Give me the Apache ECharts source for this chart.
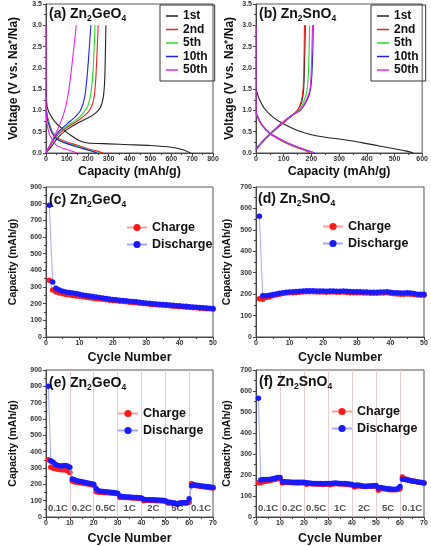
<!DOCTYPE html>
<html><head><meta charset="utf-8">
<script src="https://cdn.jsdelivr.net/npm/echarts@6/dist/echarts.min.js"></script>
<style>html,body{margin:0;padding:0;background:#fff}#c{width:431px;height:546px}</style>
</head><body><div id="c"></div>
<script>
// ---------- DATA ----------
// (a) Zn2GeO4 voltage profiles: [capacity mAh/g, voltage V]
const geDis1 = [[0,1.5],[5,1.1],[15,0.95],[40,0.75],[80,0.56],[120,0.41],[160,0.29],[200,0.235],[300,0.215],[400,0.195],[500,0.175],[600,0.135],[660,0.07],[692,0]];
const geChg1 = [[0,0],[30,0.18],[60,0.38],[100,0.55],[150,0.7],[200,0.82],[240,0.95],[262,1.08],[274,1.3],[280,1.6],[283,2.0],[287,3.0]];
const geDis2 = [[0,1.1],[10,0.8],[30,0.5],[60,0.34],[100,0.26],[150,0.18],[200,0.1],[240,0.05],[275,0]];
const geChg2 = [[0,0],[30,0.25],[60,0.45],[100,0.6],[150,0.75],[190,0.9],[215,1.05],[230,1.3],[238,1.7],[243,2.2],[250,3.0]];
const geDis5 = [[0,1.05],[10,0.76],[30,0.48],[60,0.32],[100,0.23],[150,0.16],[200,0.08],[255,0]];
const geChg5 = [[0,0],[30,0.26],[60,0.48],[100,0.63],[150,0.8],[180,0.95],[200,1.1],[215,1.4],[225,1.9],[230,2.4],[235,3.0]];
const geDis10 = [[0,1.0],[10,0.72],[30,0.46],[60,0.3],[100,0.22],[150,0.14],[200,0.07],[245,0]];
const geChg10 = [[0,0],[30,0.28],[60,0.5],[100,0.68],[140,0.85],[165,1.0],[185,1.3],[197,1.8],[205,2.3],[215,3.0]];
const geDis50 = [[0,3.0],[0,1.0],[10,0.55],[25,0.35],[50,0.18],[100,0.08],[150,0]];
const geChg50 = [[0,0],[20,0.2],[40,0.4],[60,0.6],[80,0.85],[95,1.1],[110,1.5],[125,2.1],[145,3.0]];

// (b) Zn2SnO4 voltage profiles
const snDis1 = [[0,1.5],[10,1.3],[30,1.05],[60,0.85],[100,0.68],[150,0.53],[200,0.43],[250,0.37],[300,0.33],[350,0.28],[400,0.22],[450,0.16],[500,0.1],[540,0.05],[568,0]];
const snChg1 = [[0,0.08],[30,0.3],[62,0.5],[100,0.72],[130,0.88],[150,1.0],[165,1.2],[172,1.5],[175,2.0],[178,3.0]];
const snDis2 = [[0,0.92],[20,0.66],[50,0.45],[100,0.26],[150,0.12],[180,0.05],[195,0]];
const snChg2 = [[0,0.08],[30,0.3],[62,0.5],[100,0.72],[130,0.88],[150,1.0],[163,1.2],[170,1.5],[173,2.0],[175,3.0]];
const snDis5 = [[0,0.93],[20,0.67],[50,0.46],[100,0.27],[150,0.13],[185,0.05],[205,0]];
const snChg5 = [[0,0.1],[30,0.31],[62,0.51],[100,0.73],[130,0.89],[155,1.0],[175,1.25],[185,1.5],[190,2.0],[194,3.0]];
const snDis10 = [[0,0.95],[20,0.68],[50,0.47],[100,0.28],[150,0.14],[190,0.05],[212,0]];
const snChg10 = [[0,0.1],[30,0.32],[62,0.52],[100,0.74],[130,0.89],[160,1.0],[185,1.25],[197,1.5],[203,2.0],[207,3.0]];
const snDis50 = [[0,3.0],[0,0.95],[20,0.68],[50,0.47],[100,0.28],[150,0.14],[190,0.05],[210,0]];
const snChg50 = [[0,0.1],[30,0.32],[62,0.52],[100,0.74],[130,0.89],[158,1.0],[182,1.25],[195,1.5],[200,2.0],[204,3.0]];

const cycleNames = ['1st','2nd','5th','10th','50th'];

// (c) Zn2GeO4 cycling, cycles 1..50
const geCycDischarge = [790,330,292,282,275,270,267,264,261,256,252,249,246,243,240,237,234,231,228,225,223,221,219,217,215,213,211,208,206,204,202,200,198,197,195,193,192,190,188,187,185,184,182,180,179,177,176,174,172,171];
const geCycCharge = [340,282,270,264,259,255,252,249,246,244,241,238,235,233,230,228,226,223,221,219,217,215,213,211,209,207,205,203,201,199,197,195,194,192,190,189,187,185,184,182,181,179,178,176,175,173,172,170,169,167];

// (d) Zn2SnO4 cycling
const snCycDischarge = [563,193,193,195,198,201,204,207,209,210,211,212,213,215,216,216,216,215,215,215,214,215,215,214,214,215,213,212,211,211,211,210,210,209,209,209,210,210,211,209,207,206,205,205,206,205,203,200,199,199];
const snCycCharge = [178,176,184,187,192,196,200,203,205,206,207,208,209,210,211,211,211,210,210,210,209,210,210,209,209,210,208,207,206,206,206,205,205,204,204,204,205,205,206,204,202,201,200,200,201,200,198,196,195,195];

// (e) Zn2GeO4 rate, cycles 1..70
const geRateDischarge = [800,345,335,322,315,312,314,316,313,305,
 232,228,222,219,216,213,210,207,204,200,
 175,160,158,156,155,153,152,150,148,145,
 128,125,124,123,122,121,120,119,118,116,
 108,106,106,105,105,104,104,103,102,100,
 92,90,88,85,78,85,88,88,88,112,
 192,198,195,193,190,188,186,185,183,181];
const geRateCharge = [350,305,298,295,292,290,290,288,283,272,
 220,215,212,210,208,205,203,200,198,195,
 155,152,151,150,149,148,147,146,144,142,
 120,120,120,119,118,117,116,115,114,113,
 100,102,102,101,101,100,100,99,98,97,
 85,85,84,82,78,83,85,85,86,90,
 205,195,192,190,187,185,183,181,179,177];

// (f) Zn2SnO4 rate
const snRateDischarge = [565,176,178,178,179,180,182,185,188,188,
 168,168,167,167,166,166,165,166,166,165,
 163,162,161,160,160,159,159,158,159,160,
 160,161,162,161,160,160,159,158,157,155,
 150,152,151,149,147,147,148,148,149,150,
 138,140,138,136,134,133,132,132,134,145,
 180,178,176,174,172,170,168,166,164,162];
const snRateCharge = [163,163,168,170,172,174,177,180,182,183,
 162,164,164,164,163,163,162,162,163,162,
 156,158,158,157,157,156,156,155,156,157,
 153,157,158,158,157,157,156,155,154,152,
 143,148,148,146,145,145,146,146,147,147,
 127,135,134,133,131,130,130,130,131,135,
 190,182,178,175,172,170,168,166,164,162];

const rateBoundaries = [10,20,30,40,50,60];
const rateCenters = [5,15,25,35,45,55,65];
const rateLabels = ['0.1C','0.2C','0.5C','1C','2C','5C','0.1C'];

// ---------- CHART ----------
const FONT = '"Liberation Sans", Arial, Helvetica, sans-serif';
const chart = echarts.init(document.getElementById('c'), null, {renderer:'canvas'});

const grids = [
  {left:46, top:4, width:167, height:149},
  {left:256, top:4, width:168, height:149},
  {left:46, top:187, width:167, height:150},
  {left:256, top:187, width:168, height:150},
  {left:46, top:370, width:167, height:150},
  {left:256, top:370, width:168, height:150}
].map(g => Object.assign({show:true, borderColor:'#555', borderWidth:1, containLabel:false}, g));

function axisCommon(){
  return {
    axisLine:{show:true, onZero:false, lineStyle:{color:'#444', width:1}},
    axisTick:{show:true, inside:false, length:3, lineStyle:{color:'#444'}},
    minorTick:{show:true, splitNumber:2, length:2, lineStyle:{color:'#444'}},
    splitLine:{show:false},
    axisLabel:{color:'#333', fontFamily:FONT, fontWeight:'bold', fontSize:7, margin:3}
  };
}
function mkX(gi, max, interval, name, gap){
  const a = axisCommon();
  return Object.assign(a, {type:'value', gridIndex:gi, min:0, max:max, interval:interval,
    name:name, nameLocation:'middle', nameGap:gap,
    nameTextStyle:{fontFamily:FONT, fontWeight:'bold', fontSize:12.5, color:'#111'}});
}
function mkY(gi, max, interval, name, gap, fs, dec){
  const a = axisCommon();
  a.axisLabel.margin = 4;
  if (dec) a.axisLabel.formatter = v => v.toFixed(1);
  return Object.assign(a, {type:'value', gridIndex:gi, min:0, max:max, interval:interval,
    name:name, nameLocation:'middle', nameGap:gap,
    nameTextStyle:{fontFamily:FONT, fontWeight:'bold', fontSize:fs, color:'#111'}});
}

const xAxis = [
  mkX(0, 800, 100, 'Capacity (mAh/g)', 12),
  mkX(1, 600, 100, 'Capacity (mAh/g)', 12),
  mkX(2, 50, 10, 'Cycle Number', 14),
  mkX(3, 50, 10, 'Cycle Number', 14),
  mkX(4, 70, 10, 'Cycle Number', 15),
  mkX(5, 70, 10, 'Cycle Number', 15)
];
const yAxis = [
  mkY(0, 3.5, 0.5, 'Voltage (V vs. Na\u207A/Na)', 26, 12, true),
  mkY(1, 3.5, 0.5, 'Voltage (V vs. Na\u207A/Na)', 20, 12, true),
  mkY(2, 900, 100, 'Capacity (mAh/g)', 27, 10.5, false),
  mkY(3, 700, 100, 'Capacity (mAh/g)', 23, 10.5, false),
  mkY(4, 900, 100, 'Capacity (mAh/g)', 27, 10.5, false),
  mkY(5, 700, 100, 'Capacity (mAh/g)', 23, 10.5, false)
];

const cycleColors = ['#222222','#ee2222','#22dd22','#2222ee','#ee22ee'];
const series = [];
function profile(gi, name, color, dis, chg){
  [dis, chg].forEach(d => series.push({
    type:'line', name:name, xAxisIndex:gi, yAxisIndex:gi, data:d,
    symbol:'none', smooth:0.25, lineStyle:{color:color, width:1.1}, itemStyle:{color:color}, z:3
  }));
}
const geProfiles = [[geDis1,geChg1],[geDis2,geChg2],[geDis5,geChg5],[geDis10,geChg10],[geDis50,geChg50]];
const snProfiles = [[snDis1,snChg1],[snDis2,snChg2],[snDis5,snChg5],[snDis10,snChg10],[snDis50,snChg50]];
geProfiles.forEach((p,i) => profile(0, cycleNames[i], cycleColors[i], p[0], p[1]));
snProfiles.forEach((p,i) => profile(1, cycleNames[i], cycleColors[i], p[0], p[1]));

function cyc(gi, chg, dis, extra){
  series.push({type:'line', name:'Charge', xAxisIndex:gi, yAxisIndex:gi,
    data: chg.map((v,i)=>[i+1,v]), symbol:'circle', symbolSize:5.5,
    itemStyle:{color:'#ff1a1a'}, lineStyle:{color:'#f4a0a0', width:1}, z:3});
  const s = {type:'line', name:'Discharge', xAxisIndex:gi, yAxisIndex:gi,
    data: dis.map((v,i)=>[i+1,v]), symbol:'circle', symbolSize:5.5,
    itemStyle:{color:'#1a1aff'}, lineStyle:{color:'#a8a8ff', width:1}, z:4};
  if (extra) Object.assign(s, extra);
  series.push(s);
}
cyc(2, geCycCharge, geCycDischarge);
cyc(3, snCycCharge, snCycDischarge);
const sep = {markLine:{silent:true, symbol:'none', label:{show:false}, z:1,
  lineStyle:{color:'#e6cfcf', width:1, type:'solid'},
  data: rateBoundaries.map(v=>({xAxis:v}))}};
cyc(4, geRateCharge, geRateDischarge, sep);
cyc(5, snRateCharge, snRateDischarge, sep);
function rateText(gi, yv){
  series.push({type:'scatter', name:'rate'+gi, xAxisIndex:gi, yAxisIndex:gi, silent:true,
    symbolSize:0, data: rateCenters.map(c=>[c,yv]),
    label:{show:true, position:'inside', formatter:p=>rateLabels[p.dataIndex],
      fontFamily:FONT, fontWeight:'bold', fontSize:9.5, color:'#222'}, z:5});
}
rateText(4, 50);
rateText(5, 39);

const legendText = {fontFamily:FONT, fontWeight:'bold', fontSize:12, color:'#111'};
const legend = [
  {data:cycleNames, orient:'vertical', left:160, top:5, padding:[5,7,5,6], itemGap:1.5,
   icon:'rect', itemWidth:12, itemHeight:1.5, borderColor:'#333', borderWidth:1, textStyle:legendText, selectedMode:false},
  {data:cycleNames, orient:'vertical', left:371, top:5, padding:[5,7,5,6], itemGap:1.5,
   icon:'rect', itemWidth:12, itemHeight:1.5, borderColor:'#333', borderWidth:1, textStyle:legendText, selectedMode:false}
];
[[126,221],[322,220],[117,407],[331,405]].forEach(p => legend.push({
  data:['Charge','Discharge'], orient:'vertical', left:p[0], top:p[1], padding:0, itemGap:4,
  itemWidth:20, itemHeight:9, textStyle:{fontFamily:FONT, fontWeight:'bold', fontSize:12.5, color:'#111'},
  selectedMode:false}));

function panelTitle(label, mat, x, y){
  const parts = mat === 'Ge' ? ['GeO'] : ['SnO'];
  return {left:x, top:y, padding:0,
    text:'{m|' + label + ' Zn}{s|2}{m|' + parts[0] + '}{s|4}',
    textStyle:{rich:{
      m:{fontFamily:FONT, fontWeight:'bold', fontSize:14, color:'#111', lineHeight:16, verticalAlign:'top'},
      s:{fontFamily:FONT, fontWeight:'bold', fontSize:8.5, color:'#111', lineHeight:10, verticalAlign:'bottom', padding:[7,0,0,0]}
    }}};
}
const title = [
  panelTitle('(a)','Ge',49,7),
  panelTitle('(b)','Sn',259,7),
  panelTitle('(c)','Ge',49,193),
  panelTitle('(d)','Sn',258,192),
  panelTitle('(e)','Ge',49,376),
  panelTitle('(f)','Sn',259,375)
];

chart.setOption({animation:false, backgroundColor:'#fff', grid:grids, xAxis:xAxis, yAxis:yAxis,
  series:series, legend:legend, title:title});
</script></body></html>
